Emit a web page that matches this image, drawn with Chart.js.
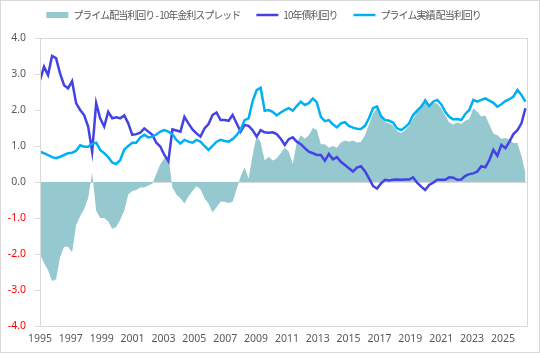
<!DOCTYPE html>
<html lang="ja">
<head>
<meta charset="utf-8">
<title>プライム配当利回りと10年債利回り</title>
<script src="https://cdn.jsdelivr.net/npm/chart.js@4"></script>
<style>
  html, body { margin: 0; padding: 0; background: #fff; }
  #wrap { width: 540px; height: 353px; position: relative; }
</style>
</head>
<body>
<div id="wrap"><canvas id="chart"></canvas></div>
<script>
// 週次データを13週ごと（四半期）に間引いた値
const weeksPerPoint = 13;
const weeksPerLabel = 100;   // 軸ラベルは100週ごと
const xMaxWeeks = 1578;

const yearLabels = ['1995', '1997', '1999', '2001', '2003', '2005', '2007', '2009',
  '2011', '2013', '2015', '2017', '2019', '2021', '2023', '2025'];

const seriesNames = ['プライム配当利回り - 10年金利スプレッド', '10年債利回り', 'プライム実績 配当利回り'];

// スプレッド（%）
const spread = [
  -2.0, -2.25, -2.45, -2.75, -2.7, -2.1, -1.8, -1.8, -1.95, -1.2,
  -0.95, -0.75, -0.45, 0.25, -0.8, -1.0, -1.0, -1.1, -1.3, -1.25,
  -1.05, -0.8, -0.35, -0.25, -0.22, -0.15, -0.15, -0.1, -0.05, 0.22,
  0.5, 0.65, 0.7, -0.15, -0.35, -0.45, -0.6, -0.4, -0.25, -0.12,
  -0.2, -0.45, -0.6, -0.85, -0.7, -0.55, -0.55, -0.58, -0.55, -0.2,
  0.15, 0.4, 0.1, 0.75, 1.3, 1.1, 0.6, 0.7, 0.6, 0.65,
  0.8, 0.95, 0.85, 0.5, 1.1, 1.3, 1.2, 1.3, 1.5, 1.45,
  1.05, 1.05, 0.95, 1.0, 0.95, 1.1, 1.15, 1.12, 1.15, 1.1,
  1.12, 1.3, 1.6, 1.9, 2.05, 1.8, 1.66, 1.63, 1.57, 1.42,
  1.36, 1.44, 1.56, 1.75, 1.95, 2.1, 2.35, 2.15, 2.2, 2.18,
  2.05, 1.85, 1.65, 1.6, 1.65, 1.62, 1.7, 1.75, 2.05, 1.95,
  1.82, 1.85, 1.6, 1.35, 1.3, 1.2, 1.22, 1.18, 1.08, 1.08,
  0.72, 0.25
];

// 10年債利回り（%）
const jgb10y = [
  2.83, 3.2, 2.97, 3.5, 3.44, 3.02, 2.69, 2.6, 2.8, 2.19,
  2.0, 1.86, 1.54, 0.84, 2.19, 1.77, 1.54, 1.95, 1.77, 1.8,
  1.77, 1.85, 1.63, 1.31, 1.33, 1.37, 1.49, 1.4, 1.31, 1.09,
  0.98, 0.75, 0.58, 1.46, 1.43, 1.4, 1.81, 1.63, 1.46, 1.35,
  1.26, 1.49, 1.61, 1.86, 1.93, 1.72, 1.72, 1.7, 1.86, 1.63,
  1.4, 1.58, 1.56, 1.44, 1.26, 1.44, 1.38, 1.37, 1.38, 1.33,
  1.2, 1.03, 1.19, 1.24, 1.12, 1.05, 0.94, 0.84, 0.8, 0.75,
  0.75, 0.59, 0.78, 0.63, 0.69, 0.56, 0.47, 0.38, 0.29, 0.4,
  0.44, 0.3, 0.1, -0.11, -0.18, -0.04, 0.06, 0.04, 0.06, 0.07,
  0.06, 0.07, 0.07, 0.13, -0.02, -0.13, -0.22, -0.08, -0.02, 0.06,
  0.06, 0.06, 0.13, 0.12, 0.06, 0.07, 0.17, 0.22, 0.24, 0.29,
  0.44, 0.41, 0.61, 0.89, 0.73, 1.03, 0.94, 1.12, 1.33, 1.44,
  1.63, 2.05
];

// プライム実績配当利回り（%）
const primeYield = [
  0.84, 0.8, 0.75, 0.69, 0.66, 0.7, 0.75, 0.8, 0.81, 0.87,
  1.02, 0.98, 0.98, 1.06, 1.09, 0.89, 0.8, 0.69, 0.54, 0.5,
  0.61, 0.9, 1.0, 1.09, 1.09, 1.24, 1.31, 1.24, 1.26, 1.32,
  1.4, 1.44, 1.4, 1.33, 1.17, 1.07, 1.17, 1.12, 1.09, 1.17,
  1.12, 1.0, 0.89, 1.0, 1.12, 1.17, 1.14, 1.12, 1.19, 1.3,
  1.45, 1.72, 1.77, 2.25, 2.55, 2.62, 1.98, 2.0, 1.95, 1.85,
  1.93, 2.0, 2.05, 1.98, 2.11, 2.23, 2.14, 2.19, 2.32, 2.21,
  1.81, 1.69, 1.72, 1.6, 1.52, 1.63, 1.66, 1.56, 1.51, 1.48,
  1.47, 1.56, 1.77, 2.05, 2.1, 1.83, 1.72, 1.7, 1.65, 1.49,
  1.44, 1.52, 1.63, 1.86, 1.98, 2.09, 2.26, 2.11, 2.23, 2.28,
  2.16, 1.95, 1.81, 1.74, 1.75, 1.72, 1.89, 2.0, 2.28, 2.23,
  2.28, 2.32, 2.26, 2.2, 2.09, 2.16, 2.25, 2.3, 2.37, 2.56,
  2.42, 2.23
];

const yTicks = { min: -4, max: 4, step: 1 };

const colors = { spread: '#96c8d0', jgb: '#4343e3', prime: '#00b0f0', text: '#595959', neg: '#ff0000', line: '#d9d9d9' };

function toPoints(arr) {
  return arr.map((v, i) => ({ x: i * weeksPerPoint, y: v }));
}

Chart.defaults.font.family = "'Noto Sans', 'Noto Sans CJK JP', sans-serif";
Chart.defaults.color = colors.text;

// 凡例：文字詰めと縦位置の調整
const legendSpacing = '-1px';
const legendTweak = {
  id: 'legendTweak',
  beforeInit(chart) {
    const legend = chart.legend;
    const fit = legend.fit;
    const draw = legend.draw;
    legend.fit = function () {
      this.ctx.save();
      this.ctx.letterSpacing = legendSpacing;
      fit.call(this);
      this.ctx.restore();
      this.height = 38;
    };
    legend.draw = function () {
      const ctx = this.ctx;
      ctx.save();
      ctx.letterSpacing = legendSpacing;
      ctx.translate(0, -6);
      draw.call(this);
      ctx.restore();
    };
  }
};

// 背景とプロットエリア・外枠
const frame = {
  id: 'frame',
  beforeDraw(chart) {
    const ctx = chart.ctx;
    ctx.save();
    ctx.fillStyle = '#fff';
    ctx.fillRect(0, 0, chart.width, chart.height);
    ctx.restore();
  },
  afterDraw(chart) {
    const { ctx, chartArea: a } = chart;
    ctx.save();
    ctx.strokeStyle = colors.line;
    ctx.lineWidth = 1;
    ctx.strokeRect(Math.round(a.left) + 0.5, Math.round(a.top) + 0.5,
      Math.round(a.right - a.left), Math.round(a.bottom - a.top));
    ctx.strokeRect(0.5, 0.5, chart.width - 1, chart.height - 1);
    ctx.restore();
  }
};

new Chart(document.getElementById('chart'), {
  type: 'line',
  data: {
    datasets: [{
      label: seriesNames[0],
      data: toPoints(spread),
      fill: 'origin',
      backgroundColor: colors.spread,
      borderColor: 'rgba(0,0,0,0)',
      borderWidth: 0,
      pointRadius: 0,
      order: 3
    }, {
      label: seriesNames[1],
      data: toPoints(jgb10y),
      borderColor: colors.jgb,
      backgroundColor: colors.jgb,
      borderWidth: 2.5,
      pointRadius: 0,
      fill: false,
      order: 2,
      legendLine: true
    }, {
      label: seriesNames[2],
      data: toPoints(primeYield),
      borderColor: colors.prime,
      backgroundColor: colors.prime,
      borderWidth: 2.5,
      pointRadius: 0,
      fill: false,
      order: 1,
      legendLine: true
    }]
  },
  options: {
    responsive: true,
    maintainAspectRatio: false,
    animation: false,
    layout: { padding: { top: 0, right: 13, bottom: 0, left: 0 } },
    plugins: {
      tooltip: { enabled: false },
      legend: {
        position: 'top',
        labels: {
          usePointStyle: true,
          pointStyleWidth: 22,
          boxHeight: 6,
          padding: 16,
          color: colors.text,
          font: { family: "'Noto Sans CJK JP'", size: 10 },
          generateLabels(chart) {
            return chart.data.datasets.map((ds, i) => ({
              text: ds.label,
              datasetIndex: i,
              fillStyle: ds.backgroundColor,
              strokeStyle: ds.legendLine ? ds.borderColor : ds.backgroundColor,
              lineWidth: ds.legendLine ? 2.5 : 0,
              pointStyle: ds.legendLine ? 'line' : 'rect',
              fontColor: colors.text,
              hidden: false
            }));
          }
        }
      }
    },
    scales: {
      x: {
        type: 'linear',
        min: 0,
        max: xMaxWeeks,
        grid: { display: false, drawTicks: false },
        border: { display: false },
        afterBuildTicks(scale) {
          scale.ticks = yearLabels.map((_, k) => ({ value: k * weeksPerLabel }));
        },
        afterFit(scale) { scale.height = 27; },
        ticks: {
          autoSkip: false,
          maxRotation: 0,
          padding: 7,
          color: colors.text,
          font: { size: 10.5 },
          callback: (v, idx) => yearLabels[idx]
        }
      },
      y: {
        min: yTicks.min,
        max: yTicks.max,
        afterFit(scale) { scale.width = 40; },
        border: { display: false },
        grid: {
          color: ctx => ctx.tick.value === 0 ? colors.line : 'rgba(0,0,0,0)',
          tickColor: colors.line,
          tickLength: 5
        },
        ticks: {
          stepSize: yTicks.step,
          padding: 9,
          font: { size: 10.5 },
          color: ctx => ctx.tick.value < 0 ? colors.neg : colors.text,
          callback: v => v.toFixed(1)
        }
      }
    }
  },
  plugins: [legendTweak, frame]
});
</script>
</body>
</html>
